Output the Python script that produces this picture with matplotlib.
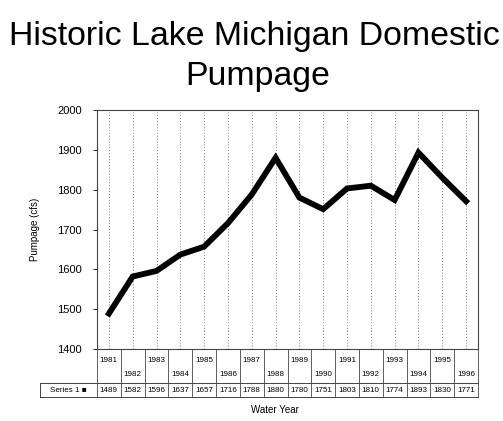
import matplotlib
matplotlib.use("Agg")
import matplotlib.pyplot as plt
import numpy as np

plt.rcParams['font.family'] = ['Liberation Sans', 'DejaVu Sans']

years = [1981, 1982, 1983, 1984, 1985, 1986, 1987, 1988,
         1989, 1990, 1991, 1992, 1993, 1994, 1995, 1996]
pumpage = [1489, 1582, 1596, 1637, 1657, 1716, 1788, 1880,
           1780, 1751, 1803, 1810, 1774, 1893, 1830, 1771]
series_name = "Series 1"
yticks = [1400, 1500, 1600, 1700, 1800, 1900, 2000]

W, H = 503, 421
fig = plt.figure(figsize=(W / 100, H / 100), dpi=100)
fig.patch.set_facecolor('white')

# axes in pixel box: left 97, right 478, top 110, bottom 349
left, right, top, bottom = 97, 478, 110, 349
ax = fig.add_axes([left / W, 1 - bottom / H, (right - left) / W, (bottom - top) / H])

x = np.arange(len(years))
for xi in x:
    ax.axvline(xi, color='#777777', ls=(0, (1, 2)), lw=0.7, zorder=1)
ax.plot(x, pumpage, color='black', lw=4.2, solid_joinstyle='miter', zorder=3)

ax.set_xlim(-0.5, len(years) - 0.5)
ax.set_ylim(1400, 2000)
ax.set_yticks(yticks)
ax.set_yticklabels([str(v) for v in yticks], fontsize=8)
ax.tick_params(axis='y', length=3, width=0.6, pad=8)
ax.set_xticks([])
for s in ax.spines.values():
    s.set_linewidth(0.8)
    s.set_color('#444444')
ax.set_ylabel("Pumpage (cfs)", fontsize=7, labelpad=12)

# data table under the axes (pixel rows converted to axes fraction)
def ay(py):
    return (bottom - py) / (bottom - top)

tr = ax.get_xaxis_transform()
row1_bot = 383
row2_bot = 397
leg_left = -0.5 - (left - 40) / ((right - left) / len(years))

lc = '#444444'
ax.plot([-0.5, len(years) - 0.5], [ay(row1_bot)] * 2, transform=tr, color=lc, lw=0.7, clip_on=False)
ax.plot([leg_left, len(years) - 0.5], [ay(row2_bot)] * 2, transform=tr, color=lc, lw=0.7, clip_on=False)
ax.plot([leg_left, -0.5], [ay(row1_bot)] * 2, transform=tr, color=lc, lw=0.7, clip_on=False)
ax.plot([leg_left, leg_left], [ay(row1_bot), ay(row2_bot)], transform=tr, color=lc, lw=0.7, clip_on=False)
for b in np.arange(len(years) + 1) - 0.5:
    ax.plot([b, b], [0, ay(row2_bot)], transform=tr, color=lc, lw=0.6, clip_on=False)

for i, (yr, v) in enumerate(zip(years, pumpage)):
    ypos = ay(360) if i % 2 == 0 else ay(374)
    ax.text(i, ypos, str(yr), transform=tr, fontsize=5.8, ha='center', va='center', clip_on=False)
    ax.text(i, ay(390), str(v), transform=tr, fontsize=5.8, ha='center', va='center', clip_on=False)

ax.text((leg_left - 0.5) / 2, ay(390), series_name + " \u25a0", transform=tr,
        fontsize=5.8, ha='center', va='center', clip_on=False)

fig.text(275 / W, 1 - 410 / H, "Water Year", fontsize=7, ha='center', va='center')

fig.text(254 / W, 1 - 36 / H, "Historic Lake Michigan Domestic", fontsize=24.4,
         ha='center', va='center')
fig.text(258 / W, 1 - 76 / H, "Pumpage", fontsize=24.4, ha='center', va='center')

fig.savefig("out.png", dpi=100, facecolor='white')
